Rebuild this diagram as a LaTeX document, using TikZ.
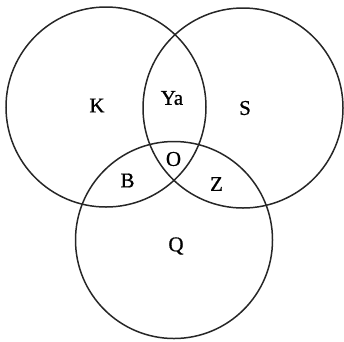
\documentclass[tikz,border=0pt]{standalone}
\usepackage{fontspec}
\setmainfont{Liberation Serif}[FakeBold=0.8]
\begin{document}
\begin{tikzpicture}[x=1pt,y=-1pt,
  ring/.style={draw=black!85,line width=1.5pt},
  lab/.style={font=\fontsize{21}{24}\selectfont,inner sep=0pt,anchor=center}]
\useasboundingbox (0,0) rectangle (344,341);
\draw[ring] (106,107) circle[radius=100];
\draw[ring] (243,108) circle[radius=100];
\draw[ring] (174,240) circle[radius=98.5];
\node[lab] (k) at (97,105.5) {K};
\node[lab] (ya) at (172,98) {Ya};
\node[lab] (s) at (245,108) {S};
\node[lab] (o) at (173.5,159) {O};
\node[lab] (b) at (127.5,180.5) {B};
\node[lab] (z) at (216.5,184) {Z};
\node[lab] (q) at (176,246) {Q};
\end{tikzpicture}
\end{document}
